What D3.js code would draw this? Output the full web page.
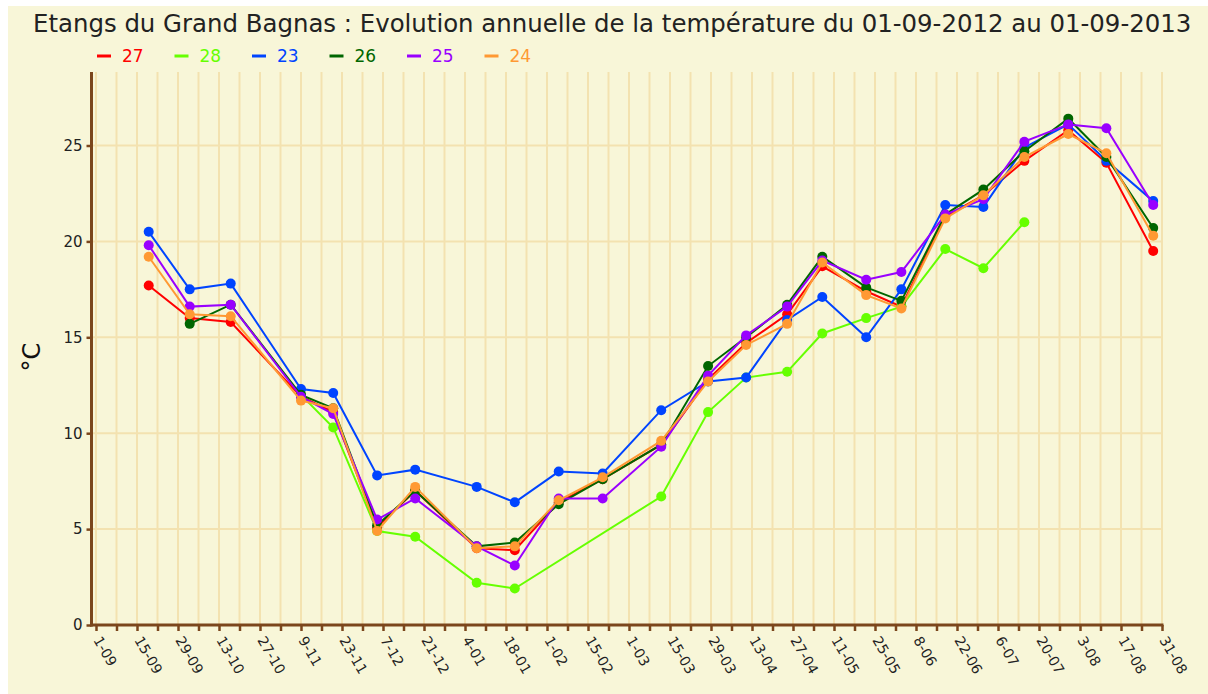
<!DOCTYPE html>
<html><head><meta charset="utf-8">
<script src="https://cdn.jsdelivr.net/npm/d3@7"></script>
<style>
html,body{margin:0;padding:0;background:#ffffff;}
svg{display:block;}
text{font-family:"DejaVu Sans",Verdana,sans-serif;}
</style></head>
<body>
<svg id="chart" width="1208" height="694"></svg>
<script>
const title = "Etangs du Grand Bagnas : Evolution annuelle de la température du 01-09-2012 au 01-09-2013";
const yLabel = "°C";
const dates = ["2012-09-19","2012-10-03","2012-10-17","2012-11-10","2012-11-21","2012-12-06","2012-12-19",
  "2013-01-09","2013-01-22","2013-02-06","2013-02-21","2013-03-13","2013-03-29","2013-04-11","2013-04-25",
  "2013-05-07","2013-05-22","2013-06-03","2013-06-18","2013-07-01","2013-07-15","2013-07-30","2013-08-12","2013-08-28"];
const seriesNames = ["27","28","23","26","25","24"];
const seriesColors = ["#ff0000","#66ff00","#0044ff","#006600","#9900ff","#ff9933"];
const s27 = [17.7,16.0,15.8,11.9,11.1,5.1,7.0,4.0,3.9,6.4,7.6,9.4,12.8,14.7,16.2,18.7,17.4,16.6,21.3,22.4,24.2,25.8,24.1,19.5];
const s28 = [null,null,null,12.0,10.3,4.9,4.6,2.2,1.9,null,null,6.7,11.1,12.9,13.2,15.2,16.0,16.6,19.6,18.6,21.0,null,null,null];
const s23 = [20.5,17.5,17.8,12.3,12.1,7.8,8.1,7.2,6.4,8.0,7.9,11.2,12.7,12.9,15.9,17.1,15.0,17.5,21.9,21.8,24.9,26.1,24.2,22.1];
const s26 = [null,15.7,16.7,12.0,11.3,5.2,7.0,4.1,4.3,6.3,7.6,9.4,13.5,15.0,16.7,19.2,17.6,16.9,21.4,22.7,24.7,26.4,24.4,20.7];
const s25 = [19.8,16.6,16.7,11.9,11.0,5.5,6.6,4.1,3.1,6.6,6.6,9.3,13.0,15.1,16.6,19.0,18.0,18.4,21.4,22.2,25.2,26.1,25.9,21.9];
const s24 = [19.2,16.2,16.1,11.7,11.3,4.9,7.2,4.0,4.1,6.5,7.7,9.6,12.7,14.6,15.7,18.9,17.2,16.5,21.2,22.4,24.4,25.6,24.6,20.3];
const yTicks = [0,5,10,15,20,25];
const xTickLabels = ["1-09","15-09","29-09","13-10","27-10","9-11","23-11","7-12","21-12","4-01","18-01","1-02","15-02",
  "1-03","15-03","29-03","13-04","27-04","11-05","25-05","8-06","22-06","6-07","20-07","3-08","17-08","31-08"];
const xStart = "2012-09-01", xEnd = "2013-08-31";

const seriesValues = [s27,s28,s23,s26,s25,s24];
const parse = d3.utcParse("%Y-%m-%d");
const svg = d3.select("#chart");

const cream = "#f8f6d8", grid = "#f3e2b0", brown = "#7b461c";
svg.append("rect").attr("x",8).attr("y",6).attr("width",1200).attr("height",688).attr("fill",cream);

const x = d3.scaleUtc().domain([parse(xStart), parse(xEnd)]).range([96, 1162]);
const y = d3.scaleLinear().domain([0, 25]).range([625, 145.5]);
const yTop = 72, yAxisX = 91.5;

const weekTicks = d3.utcDay.range(parse(xStart), d3.utcDay.offset(parse(xEnd),1), 7);
const labelTicks = weekTicks.filter((d,i)=> i%2===0).map((d,i)=>({t:d, label:xTickLabels[i]}));

const g = svg.append("g");
g.selectAll("line.v").data(weekTicks).join("line")
  .attr("x1",d=>x(d)).attr("x2",d=>x(d)).attr("y1",yTop).attr("y2",y(0))
  .attr("stroke",grid).attr("stroke-width",2);
g.selectAll("line.h").data(yTicks.filter(v=>v>0)).join("line")
  .attr("x1",yAxisX).attr("x2",1162).attr("y1",d=>y(d)).attr("y2",d=>y(d))
  .attr("stroke",grid).attr("stroke-width",2);

const yAxis = svg.append("g").attr("transform",`translate(${yAxisX},0)`)
  .call(d3.axisLeft(y).tickValues(yTicks).tickSize(5).tickPadding(4).tickFormat(d3.format("d")));
yAxis.select(".domain").remove();
yAxis.selectAll(".tick line").attr("stroke",brown).attr("stroke-width",2.5);
yAxis.selectAll(".tick text").attr("fill","#222").style("font-size","15px").style("font-family","DejaVu Sans");
svg.append("line").attr("x1",yAxisX).attr("x2",yAxisX).attr("y1",yTop).attr("y2",y(0)+1.5)
  .attr("stroke",brown).attr("stroke-width",3);

const xAxis = svg.append("g").attr("transform",`translate(0,${y(0)})`)
  .call(d3.axisBottom(x).tickValues(weekTicks).tickSize(6).tickFormat(""));
xAxis.select(".domain").remove();
xAxis.selectAll(".tick line").attr("stroke",brown).attr("stroke-width",2.5);
svg.append("line").attr("x1",yAxisX-1.5).attr("x2",1163.5).attr("y1",y(0)).attr("y2",y(0))
  .attr("stroke",brown).attr("stroke-width",3);
svg.append("g").selectAll("text").data(labelTicks).join("text")
  .attr("transform",d=>`translate(${x(d.t)-3},${y(0)+15}) rotate(60)`)
  .attr("text-anchor","start").attr("fill","#222").style("font-size","14px")
  .text(d=>d.label);

svg.append("text").attr("transform","translate(40,357) rotate(-90)")
  .attr("text-anchor","middle").attr("fill","#111").style("font-size","24px").text(yLabel);

const line = d3.line().x(d=>x(d.t)).y(d=>y(d.v));
seriesValues.forEach((vals,i)=>{
  const pts = dates.map((d,j)=>({t:parse(d), v:vals[j]})).filter(p=>p.v!==null);
  const sg = svg.append("g");
  sg.append("path").datum(pts).attr("d",line).attr("fill","none")
    .attr("stroke",seriesColors[i]).attr("stroke-width",2);
  sg.selectAll("circle").data(pts).join("circle")
    .attr("cx",d=>x(d.t)).attr("cy",d=>y(d.v)).attr("r",5).attr("fill",seriesColors[i]);
});

const tt = svg.append("text").attr("x",33).attr("y",32).attr("fill","#222").style("font-size","18px").text(title);
const w = tt.node().getComputedTextLength();
tt.style("font-size",(18*1159/w)+"px");

const leg = svg.append("g");
seriesNames.forEach((n,i)=>{
  const lx = 97 + i*77.5;
  leg.append("line").attr("x1",lx).attr("x2",lx+14).attr("y1",56).attr("y2",56)
    .attr("stroke",seriesColors[i]).attr("stroke-width",3);
  leg.append("text").attr("x",lx+25).attr("y",62).attr("fill",seriesColors[i])
    .style("font-size","17px").text(n);
});
</script>
</body></html>
